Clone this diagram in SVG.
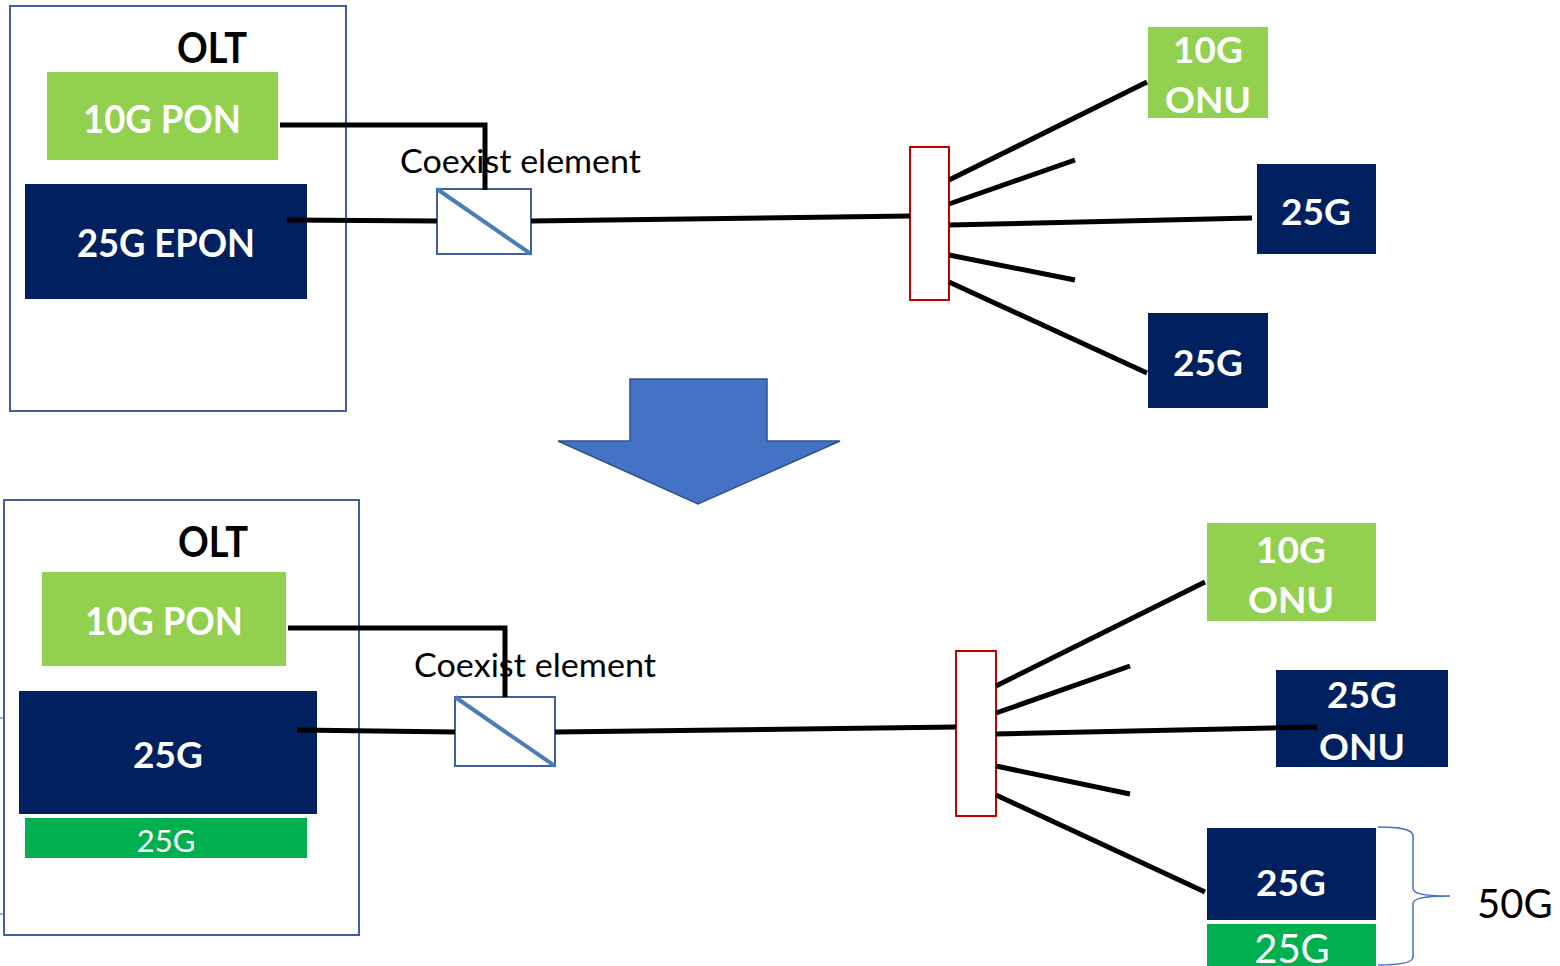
<svg xmlns="http://www.w3.org/2000/svg" width="1560" height="966" viewBox="0 0 1560 966">
<style>
.frame{fill:#fff;stroke:#3f5fa0;stroke-width:2}
.green{fill:#92d050}
.navy{fill:#002060}
.dgreen{fill:#00b050}
.ce{fill:#fff;stroke:#3f5fa0;stroke-width:2}
.diag{stroke:#4a7ebb;stroke-width:4;fill:none}
.split{fill:#fff;stroke:#c00000;stroke-width:2}
.wire{stroke:#000;stroke-width:5;fill:none;stroke-linecap:butt}
.bw{font-family:Lato,"Open Sans","DejaVu Sans",sans-serif;font-weight:bold;fill:#fff;text-anchor:middle}
.rw{font-family:Lato,"Open Sans","DejaVu Sans",sans-serif;fill:#fff;text-anchor:middle}
.bk{font-family:Lato,"Open Sans","DejaVu Sans",sans-serif;font-weight:bold;fill:#000;text-anchor:middle}
.lbl{font-family:Lato,"Open Sans","DejaVu Sans",sans-serif;fill:#000}
</style>
<rect width="1560" height="966" fill="#fff"/>

<!-- Top section -->
<g id="olt-top">
<rect class="frame" x="10" y="6" width="336" height="405"/>
<text class="bk" x="212" y="63" font-size="42" textLength="70" lengthAdjust="spacingAndGlyphs">OLT</text>
</g>
<g id="pon10-top">
<rect class="green" x="47" y="72" width="231" height="88"/>
<text class="bw" x="162" y="133" font-size="38" textLength="158" lengthAdjust="spacingAndGlyphs">10G PON</text>
</g>
<g id="epon25-top">
<rect class="navy" x="25" y="184" width="282" height="115"/>
<text class="bw" x="166" y="257" font-size="38" textLength="178" lengthAdjust="spacingAndGlyphs">25G EPON</text>
</g>
<g id="label-top">
<text class="lbl" x="400" y="173" font-size="33" textLength="241" lengthAdjust="spacingAndGlyphs">Coexist element</text>
</g>
<g id="coexist-top">
<rect class="ce" x="437" y="189" width="94" height="65"/>
<line class="diag" x1="437" y1="189" x2="531" y2="254"/>
</g>
<g id="splitter-top">
<rect class="split" x="910" y="147" width="39" height="153"/>
</g>
<g id="onu10-top">
<rect class="green" x="1148" y="27" width="120" height="91"/>
<text class="bw" x="1208" y="63" font-size="37">10G</text>
<text class="bw" x="1208" y="113" font-size="37">ONU</text>
</g>
<g id="onu25a-top">
<rect class="navy" x="1257" y="164" width="119" height="90"/>
<text class="bw" x="1316" y="225" font-size="37">25G</text>
</g>
<g id="onu25b-top">
<rect class="navy" x="1148" y="313" width="120" height="95"/>
<text class="bw" x="1208" y="376" font-size="37">25G</text>
</g>

<g id="connectors-top">
<polyline class="wire" points="280,125 485,125 485,190"/>
<line class="wire" x1="287" y1="220" x2="437" y2="221"/>
<line class="wire" x1="531" y1="221" x2="910" y2="216"/>
<line class="wire" x1="949" y1="180" x2="1147" y2="82"/>
<line class="wire" x1="949" y1="204" x2="1075" y2="160"/>
<line class="wire" x1="949" y1="225" x2="1252" y2="218"/>
<line class="wire" x1="949" y1="255" x2="1075" y2="280"/>
<line class="wire" x1="949" y1="282" x2="1147" y2="373"/>
</g>

<!-- Transition arrow -->
<g id="arrow">
<polygon points="630,379 767,379 767,441 840,441 698,504 558,441 630,441" fill="#4472c4" stroke="#2f528f" stroke-width="1.5"/>
</g>

<!-- Bottom section -->
<g id="olt-bottom">
<rect class="frame" x="4" y="500" width="355" height="435"/>
<text class="bk" x="213" y="557" font-size="42" textLength="70" lengthAdjust="spacingAndGlyphs">OLT</text>
</g>
<g id="ticks">
<line x1="0" y1="718" x2="4" y2="718" stroke="#3f5fa0" stroke-width="1"/>
<line x1="0" y1="914" x2="4" y2="914" stroke="#3f5fa0" stroke-width="1"/>
</g>
<g id="pon10-bottom">
<rect class="green" x="42" y="572" width="244" height="94"/>
<text class="bw" x="164" y="635" font-size="38" textLength="158" lengthAdjust="spacingAndGlyphs">10G PON</text>
</g>
<g id="pon25-bottom">
<rect class="navy" x="19" y="691" width="298" height="123"/>
<text class="bw" x="168" y="768" font-size="37">25G</text>
</g>
<g id="pon25g-bottom">
<rect class="dgreen" x="25" y="818" width="282" height="40"/>
<text class="rw" x="166" y="852" font-size="31">25G</text>
</g>
<g id="label-bottom">
<text class="lbl" x="414" y="677" font-size="33" textLength="242" lengthAdjust="spacingAndGlyphs">Coexist element</text>
</g>
<g id="coexist-bottom">
<rect class="ce" x="455" y="697" width="100" height="69"/>
<line class="diag" x1="455" y1="697" x2="555" y2="766"/>
</g>
<g id="splitter-bottom">
<rect class="split" x="956" y="651" width="40" height="165"/>
</g>
<g id="onu10-bottom">
<rect class="green" x="1207" y="523" width="169" height="98"/>
<text class="bw" x="1291" y="563" font-size="37">10G</text>
<text class="bw" x="1291" y="613" font-size="37">ONU</text>
</g>
<g id="onu25-bottom">
<rect class="navy" x="1276" y="670" width="172" height="97"/>
<text class="bw" x="1362" y="708" font-size="37">25G</text>
<text class="bw" x="1362" y="760" font-size="37">ONU</text>
</g>
<g id="onu50-bottom">
<rect class="navy" x="1207" y="828" width="169" height="92"/>
<text class="bw" x="1291" y="896" font-size="37">25G</text>
<rect class="dgreen" x="1207" y="924" width="169" height="42"/>
<text class="rw" x="1292" y="963" font-size="40">25G</text>
</g>
<g id="brace">
<path d="M1378,827 C1400,827 1413,829 1413,836 L1413,888 C1413,893 1420,896 1450,896 C1420,896 1413,899 1413,904 L1413,957 C1413,963 1400,965 1378,965" fill="none" stroke="#4472c4" stroke-width="1.5"/>
<text class="lbl" x="1477" y="918" font-size="40">50G</text>
</g>

<g id="connectors-bottom">
<polyline class="wire" points="288,628 505,628 505,697"/>
<line class="wire" x1="297" y1="730" x2="455" y2="732"/>
<line class="wire" x1="555" y1="732" x2="956" y2="727"/>
<line class="wire" x1="996" y1="686" x2="1205" y2="582"/>
<line class="wire" x1="996" y1="713" x2="1130" y2="666"/>
<line class="wire" x1="996" y1="734" x2="1317" y2="727"/>
<line class="wire" x1="996" y1="766" x2="1130" y2="794"/>
<line class="wire" x1="996" y1="795" x2="1205" y2="892"/>
</g>
</svg>
